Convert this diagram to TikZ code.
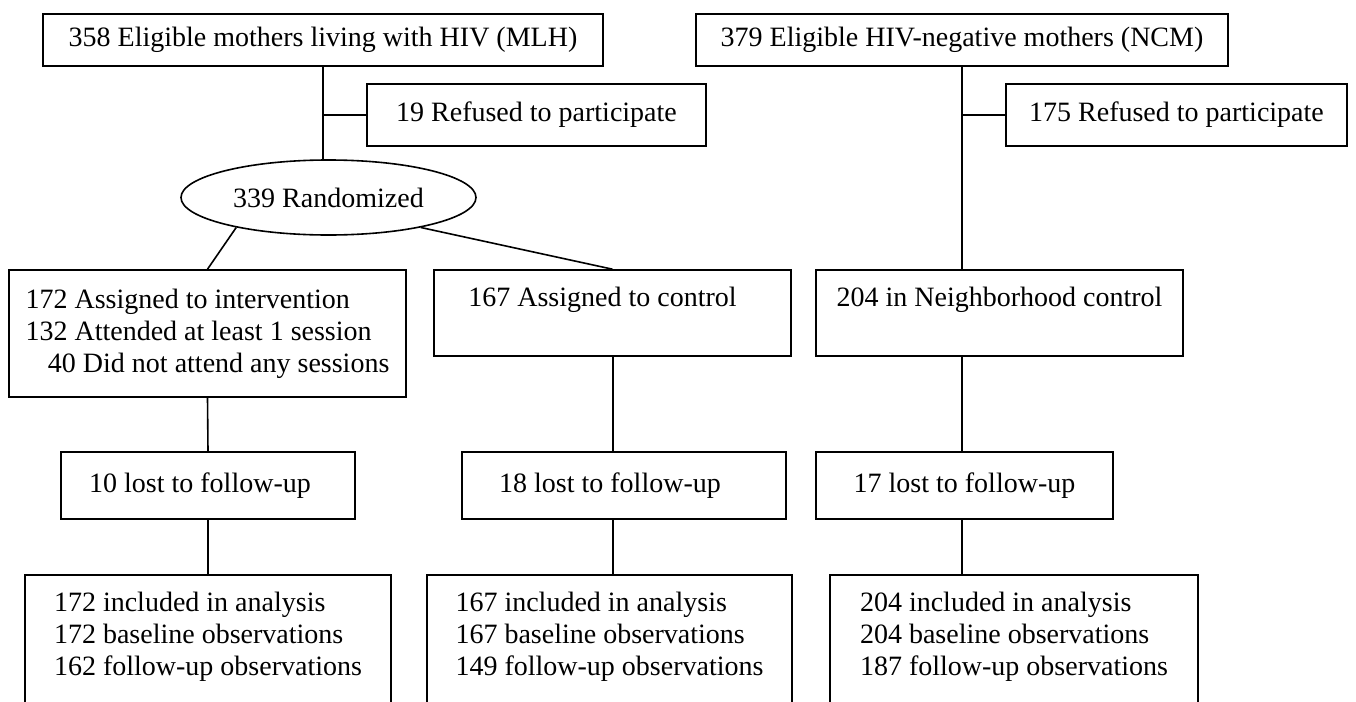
\documentclass[tikz,border=0pt]{standalone}
\usepackage{fontspec}
\setmainfont{Liberation Serif}
\usetikzlibrary{shapes.geometric}
\usetikzlibrary{positioning}

\begin{document}
\begin{tikzpicture}[
    x=0.5pt, y=-0.5pt,
    box/.style={draw, line width=0.8pt, rectangle, inner sep=0pt, font=\fontsize{14}{16}\selectfont}, % Style for the boxes
    oval/.style={draw, line width=0.8pt, ellipse, inner sep=0pt, font=\fontsize{14}{16}\selectfont}, % Style for the randomisation node
    link/.style={line width=0.8pt} % Style for the connectors
]

% Page frame (bottom boxes run off the page)
\clip (0,0) rectangle (1356,702);

% Spines for the connectors that do not sit on node centres
\coordinate (mspine) at (613,0);
\coordinate (nspine) at (962,0);

% --- Top row ---
\node[box, minimum width=280pt, minimum height=26pt] (mlh) at (323,40) {358 Eligible mothers living with HIV (MLH)};
\node[box, minimum width=266pt, minimum height=26pt] (ncm) at (962,40) {379 Eligible HIV-negative mothers (NCM)};

\node[box, minimum width=169.5pt, minimum height=31pt] (ref1) at (536.5,115) {19 Refused to participate};
\node[box, minimum width=170.5pt, minimum height=31pt] (ref2) at (1176.5,115) {175 Refused to participate};

\node[oval, minimum width=147.5pt, minimum height=37.5pt] (rand) at (328.5,197.5) {339 Randomized};

% --- Groups ---
\node[box, align=left, minimum width=198.5pt, minimum height=63.5pt] (intv) at (207.5,333.5)
    {172 Assigned to intervention\\132 Attended at least 1 session\\\hspace*{0.8em}40 Did not attend any sessions};
\node[box, align=center, minimum width=178.5pt, minimum height=43pt] (ctrl) at (612.5,313)
    {167 Assigned to control\hspace*{10pt}\\ \mbox{}};
\node[box, align=center, minimum width=183.5pt, minimum height=43pt] (nbh) at (999.5,313)
    {204 in Neighborhood control\\ \mbox{}};

% --- Lost to follow-up ---
\node[box, minimum width=147pt, minimum height=33.5pt] (lost1) at (208,485.5) {10 lost to follow-up\hspace*{8pt}};
\node[box, minimum width=162pt, minimum height=33.5pt] (lost2) at (624,485.5) {18 lost to follow-up\hspace*{14pt}};
\node[box, minimum width=148.5pt, minimum height=33.5pt] (lost3) at (964.5,485.5) {17 lost to follow-up};

% --- Analysis ---
\node[box, align=left, minimum width=183pt, minimum height=75pt] (res1) at (208,650)
    {172 included in analysis\\172 baseline observations\\162 follow-up observations\\ \mbox{}};
\node[box, align=left, minimum width=182.5pt, minimum height=75pt] (res2) at (609.5,650)
    {167 included in analysis\\167 baseline observations\\149 follow-up observations\\ \mbox{}};
\node[box, align=left, minimum width=184pt, minimum height=75pt] (res3) at (1014,650)
    {204 included in analysis\\204 baseline observations\\187 follow-up observations\\ \mbox{}};

% --- Connectors ---
\draw[link] (mlh.south) -- (mlh.south |- rand.north);
\draw[link] (ref1.west) -- (ref1.west -| mlh.south);
\draw[link] (rand.198) -- (intv.north);
\draw[link] (rand.342) -- (ctrl.north);

\draw[link] (ncm.south -| nspine) -- (nbh.north -| nspine);
\draw[link] (ref2.west) -- (ref2.west -| nspine);

\draw[link] (intv.south) -- (lost1.north);
\draw[link] (lost1.south) -- (res1.north);
\draw[link] (ctrl.south -| mspine) -- (lost2.north -| mspine);
\draw[link] (lost2.south -| mspine) -- (res2.north -| mspine);
\draw[link] (nbh.south -| nspine) -- (lost3.north -| nspine);
\draw[link] (lost3.south -| nspine) -- (res3.north -| nspine);

\end{tikzpicture}
\end{document}
